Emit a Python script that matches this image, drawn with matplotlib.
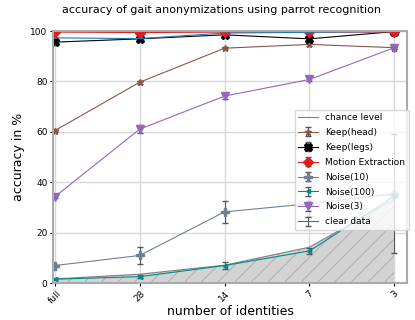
import numpy as np
import matplotlib.pyplot as plt

# Data
x_labels = ["full", "28", "14", "7", "3"]
chance = [1.7, 3.57, 7.14, 14.29, 33.33]

keep_head = [60.5, 79.7, 93.2, 94.7, 93.4]
keep_head_err = [0.5, 0.6, 0.5, 0.6, 0.5]
keep_legs = [95.6, 96.9, 98.5, 96.9, 99.8]
keep_legs_err = [0.4, 0.4, 0.4, 0.8, 0.2]
motion = [99.6, 99.4, 99.6, 99.6, 99.6]
motion_err = [0.2, 0.2, 0.2, 0.2, 0.2]
noise10 = [7.0, 11.0, 28.3, 31.5, 35.5]
noise10_err = [0.4, 3.4, 4.3, 5.0, 23.5]
noise100 = [1.6, 2.6, 7.0, 12.8, 34.5]
noise100_err = [0.3, 0.6, 1.5, 1.3, 0.5]
noise3 = [34.3, 61.1, 74.2, 80.8, 93.4]
noise3_err = [0.5, 1.5, 1.0, 0.8, 0.6]
clear = [97.3, 97.0, 99.2, 99.5, 99.8]
clear_err = [0.3, 0.3, 0.3, 0.3, 0.2]

series = [
    ("Keep(head)", keep_head, keep_head_err, "#8c564b", "*", 5),
    ("Keep(legs)", keep_legs, keep_legs_err, "black", "X", 6),
    ("Motion Extraction", motion, motion_err, "#e41a1c", "D", 5),
    ("Noise(10)", noise10, noise10_err, "#708090", "P", 6),
    ("Noise(100)", noise100, noise100_err, "#008b8b", "<", 3),
    ("Noise(3)", noise3, noise3_err, "#9467bd", "v", 6),
    ("clear data", clear, clear_err, "#1f77b4", "", 0),
]

x = np.arange(len(x_labels))

plt.rcParams["hatch.linewidth"] = 0.5
plt.rcParams["hatch.color"] = "#a0a0a0"

fig = plt.figure(figsize=(4.15, 3.2), dpi=100)
ax = fig.add_axes([0.128, 0.115, 0.853, 0.788])

ax.grid(True, color="#d8d8d8", linewidth=1.0)
ax.set_axisbelow(True)

ax.plot(x, chance, color="grey", linewidth=0.8, label="chance level")
ax.fill_between(x, 0, chance, facecolor="lightgrey", edgecolor="#a0a0a0",
                hatch="//", linewidth=0.0)

for name, vals, err, col, mk, ms in series:
    ax.errorbar(x, vals, yerr=err, label=name, color=col, marker=mk,
                markersize=ms, linewidth=0.8, ecolor="#555555",
                elinewidth=0.8, capsize=2.5)

ax.set_xlim(-0.02, 4.15)
ax.set_ylim(0, 100)
ax.set_xticks(x)
ax.set_xticklabels(x_labels, rotation=45)
ax.set_yticks([0, 20, 40, 60, 80, 100])
ax.tick_params(axis="both", labelsize=6.5, length=2.5, pad=1.5)
ax.set_xlabel("number of identities", fontsize=9, labelpad=0)
ax.set_ylabel("accuracy in %", fontsize=9, labelpad=4)
ax.set_title("accuracy of gait anonymizations using parrot recognition",
             fontsize=8, pad=13, x=0.475)

for s in ax.spines.values():
    s.set_color("#aaaaaa")
    s.set_linewidth(1.5)

ax.legend(loc="center right", bbox_to_anchor=(1.005, 0.45), fontsize=6.5,
          framealpha=0.8, labelspacing=0.65, borderaxespad=0.0,
          handlelength=2.2)

fig.savefig("out.png", dpi=100)
